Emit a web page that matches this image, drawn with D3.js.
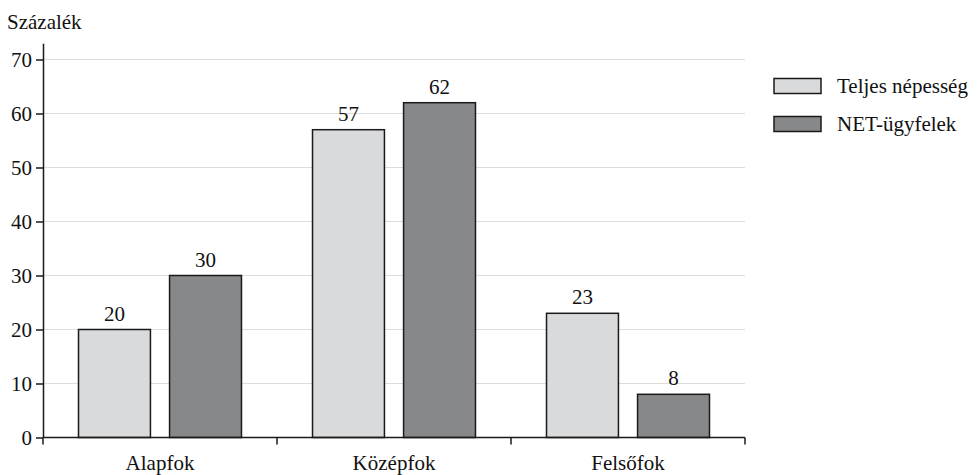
<!DOCTYPE html>
<html>
<head>
<meta charset="utf-8">
<script src="https://cdn.jsdelivr.net/npm/d3@7"></script>
</head>
<body style="margin:0;background:#fff">
<svg id="chart" width="978" height="475" style="display:block"></svg>
<script>
// Educational attainment, percentage shares
const categories = ["Alapfok", "Középfok", "Felsőfok"];
const seriesNames = ["Teljes népesség", "NET-ügyfelek"];
const teljesNepesseg = [20, 57, 23];
const netUgyfelek = [30, 62, 8];
const yTicks = [0, 10, 20, 30, 40, 50, 60, 70];
const yTitle = "Százalék";

const colors = { "Teljes népesség": "#d9dadc", "NET-ügyfelek": "#87888a" };
const FONT = "'Liberation Serif', 'Tinos', 'Times New Roman'";
const fontSize = "21px";

const rows = categories.map((c, i) => ({
  cat: c,
  values: [
    { name: seriesNames[0], value: teljesNepesseg[i] },
    { name: seriesNames[1], value: netUgyfelek[i] }
  ]
}));

const svg = d3.select("#chart");

const x0 = d3.scaleBand().domain(categories).range([43, 745]).padding(0);
const x1 = d3.scaleBand().domain(seriesNames).range([0, x0.bandwidth()])
  .paddingInner(0.21).paddingOuter(0.39);
const y = d3.scaleLinear().domain([0, 73]).range([437.5, 43.3]);

// Horizontal gridlines
svg.append("g")
  .selectAll("line")
  .data(yTicks.filter(t => t > 0))
  .join("line")
  .attr("x1", x0.range()[0])
  .attr("x2", x0.range()[1])
  .attr("y1", d => y(d))
  .attr("y2", d => y(d))
  .attr("stroke", "#dcdcdc")
  .attr("stroke-width", 1.2);

// Bars
const groups = svg.append("g")
  .selectAll("g")
  .data(rows)
  .join("g")
  .attr("transform", d => `translate(${x0(d.cat)},0)`);

groups.selectAll("rect")
  .data(d => d.values)
  .join("rect")
  .attr("x", d => x1(d.name))
  .attr("width", x1.bandwidth())
  .attr("y", d => y(d.value))
  .attr("height", d => y(0) - y(d.value))
  .attr("fill", d => colors[d.name])
  .attr("stroke", "#1a1a1a")
  .attr("stroke-width", 1.5);

// Value labels
groups.selectAll("text.val")
  .data(d => d.values)
  .join("text")
  .attr("class", "val")
  .attr("x", d => x1(d.name) + x1.bandwidth() / 2)
  .attr("y", d => y(d.value) - 9)
  .attr("text-anchor", "middle")
  .style("font-family", FONT)
  .style("font-size", fontSize)
  .style("fill", "#111")
  .text(d => d3.format("d")(d.value));

// Y axis
const yAxis = svg.append("g")
  .attr("transform", `translate(${x0.range()[0]},0)`)
  .call(d3.axisLeft(y).tickValues(yTicks).tickSize(7).tickSizeOuter(0).tickPadding(4));
yAxis.attr("font-family", null);
yAxis.select(".domain").attr("stroke", "#1a1a1a").attr("stroke-width", 1.5);
yAxis.selectAll(".tick line").attr("stroke", "#1a1a1a").attr("stroke-width", 1.5);
yAxis.selectAll(".tick text")
  .style("font-family", FONT)
  .style("font-size", fontSize)
  .style("fill", "#111");

// X axis: baseline with ticks on category boundaries
const xAxis = svg.append("g").attr("transform", `translate(0,${y(0)})`);
xAxis.call(d3.axisBottom(x0).tickSize(0).tickSizeOuter(0).tickPadding(18));
xAxis.attr("font-family", null);
xAxis.select(".domain").attr("stroke", "#1a1a1a").attr("stroke-width", 1.5)
  .attr("d", `M${x0.range()[0]},0H${x0.range()[1]}`);
xAxis.selectAll(".tick text")
  .style("font-family", FONT)
  .style("font-size", fontSize)
  .style("fill", "#111");
const boundaries = [x0.range()[0]].concat(categories.map(c => x0(c) + x0.bandwidth()));
xAxis.selectAll("line.bound")
  .data(boundaries)
  .join("line")
  .attr("class", "bound")
  .attr("x1", d => d).attr("x2", d => d)
  .attr("y1", 0).attr("y2", 7)
  .attr("stroke", "#1a1a1a")
  .attr("stroke-width", 1.5);

// Y axis title
svg.append("text")
  .attr("x", 7)
  .attr("y", 29)
  .style("font-family", FONT)
  .style("font-size", fontSize)
  .style("fill", "#111")
  .text(yTitle);

// Legend
const legend = svg.append("g")
  .selectAll("g")
  .data(seriesNames)
  .join("g")
  .attr("transform", (d, i) => `translate(774,${78.5 + i * 38})`);
legend.append("rect")
  .attr("width", 47).attr("height", 15)
  .attr("fill", d => colors[d])
  .attr("stroke", "#1a1a1a")
  .attr("stroke-width", 1.5);
legend.append("text")
  .attr("x", 63)
  .attr("y", 14.5)
  .style("font-family", FONT)
  .style("font-size", fontSize)
  .style("fill", "#111")
  .text(d => d);
</script>
</body>
</html>
